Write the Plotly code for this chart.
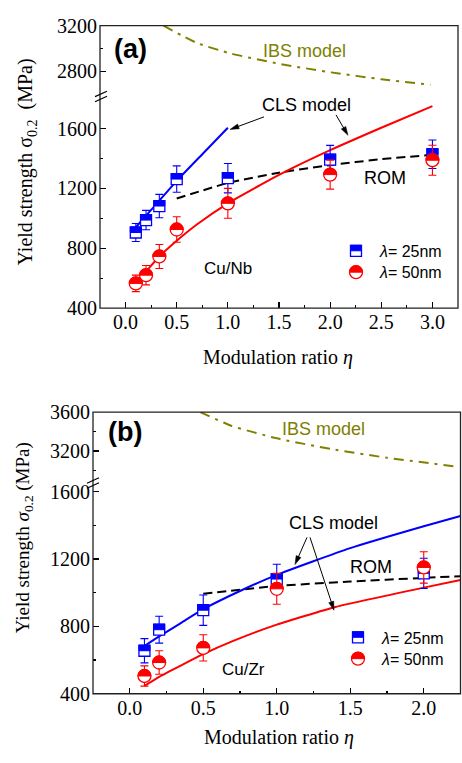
import math
import plotly.graph_objects as go

W, H = 462, 763

# ---------------- data : panel (a) Cu/Nb ----------------
eta_a = [0.1, 0.2, 0.33, 0.5, 1.0, 2.0, 3.0]
sig_a_25 = [905, 988, 1082, 1262, 1268, 1392, 1428]
err_a_25 = [60, 65, 78, 88, 98, 95, 95]
sig_a_50 = [565, 620, 745, 925, 1100, 1292, 1388]
err_a_50 = [55, 65, 80, 85, 100, 97, 100]

cls_a_25_eta = [0.1, 0.2, 0.33, 0.5, 0.75, 1.0]
cls_a_25 = [940, 1018, 1118, 1250, 1428, 1605]
cls_a_50_eta = [0.1, 0.2, 0.33, 0.5, 0.7, 1.0, 1.5, 2.0, 2.5, 3.0]
cls_a_50 = [570, 645, 745, 850, 960, 1100, 1290, 1455, 1605, 1750]
rom_a_eta = [0.5, 1.0, 1.5, 2.0, 2.5, 3.0]
rom_a = [1132, 1236, 1305, 1355, 1395, 1424]
ibs_a_eta = [0.37, 0.7, 1.03, 1.52, 2.01, 2.5, 2.98]
ibs_a = [3200, 3047, 2955, 2862, 2790, 2730, 2681]

# ---------------- data : panel (b) Cu/Zr ----------------
eta_b = [0.1, 0.2, 0.5, 1.0, 2.0]
sig_b_25 = [655, 780, 896, 1081, 1115]
err_b_25 = [72, 80, 90, 88, 90]
sig_b_50 = [505, 585, 672, 1023, 1150]
err_b_50 = [60, 70, 78, 92, 93]

cls_b_25_eta = [0.1, 0.2, 0.35, 0.5, 0.75, 1.0, 1.5, 2.0, 2.25]
cls_b_25 = [683, 740, 821, 902, 1010, 1106, 1265, 1395, 1456]
cls_b_50_eta = [0.1, 0.2, 0.5, 0.7, 1.0, 1.4, 2.0, 2.25]
cls_b_50 = [446, 500, 635, 712, 810, 915, 1030, 1075]
rom_b_eta = [0.5, 1.0, 1.5, 2.0, 2.25]
rom_b = [994, 1040, 1066, 1088, 1098]
ibs_b_eta = [0.48, 0.69, 1.0, 1.37, 1.75, 2.22]
ibs_b = [3600, 3460, 3330, 3220, 3130, 3040]

xt_a = [0.0, 0.5, 1.0, 1.5, 2.0, 2.5, 3.0]
xt_b = [0.0, 0.5, 1.0, 1.5, 2.0]
yt_low = [400, 800, 1200, 1600]
yt_a_up = [2800, 3200]
yt_b_up = [3200, 3600]

BLUE = "#0000FF"
RED = "#FF0000"
OLIVE = "#808000"
SERIF = "Liberation Serif"
SANS = "Liberation Sans"


def px(p):
    return p / W


def py(p):
    return 1 - p / H


fig = go.Figure()


def lines(xa, ya, x, y, color, dash, width=2.0):
    fig.add_trace(go.Scatter(x=x, y=y, mode="lines", xaxis=xa, yaxis=ya,
                             line=dict(color=color, width=width, dash=dash, shape="spline", smoothing=0.5),
                             showlegend=False, hoverinfo="skip"))


# panel (a) curves
lines("x", "y", rom_a_eta, rom_a, "black", "9px,5px")
lines("x", "y", cls_a_25_eta, cls_a_25, BLUE, "solid")
lines("x", "y", cls_a_50_eta, cls_a_50, RED, "solid")
lines("x", "y2", ibs_a_eta, ibs_a, OLIVE, "10px,6px,3px,6px")
# panel (b) curves
lines("x2", "y3", rom_b_eta, rom_b, "black", "9px,5px")
lines("x2", "y3", cls_b_25_eta, cls_b_25, BLUE, "solid")
lines("x2", "y3", cls_b_50_eta, cls_b_50, RED, "solid")
lines("x2", "y4", ibs_b_eta, ibs_b, OLIVE, "10px,6px,3px,6px")


def points(xa, ya, x, y, err, color, symbol, size, name, uid, legend):
    fig.add_trace(go.Scatter(
        x=x, y=y, mode="markers", xaxis=xa, yaxis=ya, name=name, uid=uid, legend=legend,
        marker=dict(symbol=symbol, size=size, color="white", line=dict(color=color, width=1.3)),
        error_y=dict(type="data", array=err, color=color, thickness=1.1, width=4),
        showlegend=True, hoverinfo="skip"))


points("x", "y", eta_a, sig_a_25, err_a_25, BLUE, "square", 11, "<i>λ</i>= 25nm", "sqa", "legend")
points("x", "y", eta_a, sig_a_50, err_a_50, RED, "circle", 13, "<i>λ</i>= 50nm", "cia", "legend2")
points("x2", "y3", eta_b, sig_b_25, err_b_25, BLUE, "square", 11, "<i>λ</i>= 25nm", "sqb", "legend3")
points("x2", "y3", eta_b, sig_b_50, err_b_50, RED, "circle", 13, "<i>λ</i>= 50nm", "cib", "legend4")

tickfont = dict(family=SERIF, size=20, color="black")


def xax(domain, anchor, rng, tv):
    return dict(domain=domain, anchor=anchor, range=rng, tickvals=tv,
                ticktext=["%.1f" % v for v in tv], ticks="inside", ticklen=6, tickwidth=1.2,
                tickcolor="black", showline=False, showgrid=False, zeroline=False,
                tickfont=tickfont, fixedrange=True,
                minor=dict(tickvals=[v + 0.25 for v in [-0.5] + tv if -0.25 < v + 0.25 < rng[1]],
                           ticks="inside", ticklen=3, tickwidth=1.2, tickcolor="black", showgrid=False))


def yax(domain, anchor, rng, tv, minor_tv):
    return dict(domain=domain, anchor=anchor, range=rng, tickvals=tv, ticktext=[str(v) for v in tv],
                ticks="inside", ticklen=6, tickwidth=1.2, tickcolor="black",
                showline=False, showgrid=False, zeroline=False, tickfont=tickfont, fixedrange=True,
                ticklabelstandoff=2,
                minor=dict(tickvals=minor_tv, ticks="inside", ticklen=3, tickwidth=1.2,
                           tickcolor="black", showgrid=False))


A_L, A_R, A_T, A_B, A_BR = 100, 458, 15, 306, 88
B_L, B_R, B_T, B_B, B_BR = 93, 460.5, 413, 703, 486


def leg(x, y):
    return dict(x=px(x), y=py(y), xanchor="left", yanchor="middle", bgcolor="rgba(0,0,0,0)",
                font=dict(family=SANS, size=16, color="black"), tracegroupgap=0, itemwidth=38)


fig.update_layout(
    width=W, height=H, margin=dict(l=0, r=0, t=0, b=0),
    paper_bgcolor="white", plot_bgcolor="white",
    xaxis=xax([px(A_L), px(A_R)], "y", [-0.25, 3.25], xt_a),
    yaxis=yax([py(A_B), py(A_BR)], "x", [399.5, 400 + (A_B - A_BR) * 1200 / 185], yt_low, [600, 1000, 1400]),
    yaxis2=yax([py(A_BR), py(A_T)], "x", [3200 - (A_BR - A_T) * 400 / 47, 3200.5], yt_a_up, [3000]),
    xaxis2=xax([px(B_L), px(B_R)], "y3", [-0.25, 2.25], xt_b),
    yaxis3=yax([py(B_B), py(B_BR)], "x2", [399.5, 400 + (B_B - B_BR) * 1200 / 208], yt_low, [600, 1000, 1400]),
    yaxis4=yax([py(B_BR), py(B_T)], "x2", [3600 - (B_BR - B_T) * 10, 3600.5], yt_b_up, [3000, 3400]),
    showlegend=True,
    legend=leg(332, 247),
    legend2=leg(332, 269),
    legend3=leg(334, 645),
    legend4=leg(334, 667),
)

shapes = []
for (l, r, t, b) in [(A_L, A_R, A_T, A_B), (B_L, B_R, B_T, B_B)]:
    shapes.append(dict(type="rect", xref="paper", yref="paper", x0=px(l), x1=px(r), y0=py(b), y1=py(t),
                       line=dict(color="#222222", width=1.3), fillcolor="rgba(0,0,0,0)", layer="above"))
# axis-break marks
for (cx, cy) in [(A_L + 1, A_BR), (B_L, B_BR)]:
    for dy in (-2.6, 2.6):
        shapes.append(dict(type="line", xref="paper", yref="paper",
                           x0=px(cx - 6), y0=py(cy + dy + 2.8), x1=px(cx + 6), y1=py(cy + dy - 2.8),
                           line=dict(color="black", width=1.2)))


# annotation arrows (pixel positions of tail and head)
def arrow(tx, ty, hx, hy, hl=9.0, hw=2.6):
    L = math.hypot(hx - tx, hy - ty)
    ux, uy = (hx - tx) / L, (hy - ty) / L
    bx, by = hx - ux * hl, hy - uy * hl
    shapes.append(dict(type="line", xref="paper", yref="paper", x0=px(tx), y0=py(ty),
                       x1=px(bx + ux * 1), y1=py(by + uy * 1), line=dict(color="black", width=1)))
    p1 = (bx - uy * hw, by + ux * hw)
    p2 = (bx + uy * hw, by - ux * hw)
    path = "M %f %f L %f %f L %f %f Z" % (px(hx), py(hy), px(p1[0]), py(p1[1]), px(p2[0]), py(p2[1]))
    shapes.append(dict(type="path", xref="paper", yref="paper", path=path,
                       fillcolor="black", line=dict(color="black", width=0.5)))


arrow(264, 109, 230, 122)
arrow(336, 107, 348, 128)
arrow(307, 542, 295, 570)
arrow(310, 542, 334, 617)
fig.update_layout(shapes=shapes)

ann = []


def txt(x, y, s, size=18, color="black", family=SANS, angle=0):
    ann.append(dict(x=px(x), y=py(y), xref="paper", yref="paper", text=s, showarrow=False,
                    font=dict(family=family, size=size, color=color), textangle=angle,
                    xanchor="center", yanchor="middle"))


txt(130, 39, "<b>(a)</b>", 27)
txt(304, 41, "IBS model", 18, OLIVE)
txt(306, 97, "CLS model", 18)
txt(385, 172, "ROM", 18)
txt(228, 265, "Cu/Nb", 17)
txt(125, 433, "<b>(b)</b>", 27)
txt(323, 430, "IBS model", 18, OLIVE)
txt(333, 527, "CLS model", 18)
txt(371, 572, "ROM", 18)
txt(243, 678, "Cu/Zr", 17)

txt(27, 156, "Yield strength σ<sub>0.2</sub>  (MPa)", 20, "black", SERIF, -90)
txt(24, 543, "Yield strength <i>σ</i><sub>0.2</sub> (MPa)", 19, "black", SERIF, -90)
txt(278, 357, "Modulation ratio <i>η</i>", 20, "black", SERIF)
txt(279, 748, "Modulation ratio <i>η</i>", 20, "black", SERIF)
fig.update_layout(annotations=ann)

post = r"""
var gd = document.getElementById('{plot_id}');
function halfMarks(){
  var old = gd.querySelectorAll('path.halfadd');
  for (var i = 0; i < old.length; i++) { old[i].parentNode.removeChild(old[i]); }
  var pts = gd.querySelectorAll('path.point, path.scatterpts');
  for (var j = 0; j < pts.length; j++) {
    var p = pts[j];
    var g = p.closest('.trace') || p.closest('.traces');
    if (!g || !g.__data__) continue;
    var dd = g.__data__;
    var tr = dd && dd[0] && dd[0].trace;
    if (!tr || !tr.uid) continue;
    var kind = tr.uid.substring(0, 2);
    if (kind !== 'sq' && kind !== 'ci') continue;
    var bb = p.getBBox();
    var r = bb.width / 2;
    var d = (kind === 'sq') ?
      ('M' + (-r) + ',' + (-r) + 'H' + r + 'V0H' + (-r) + 'Z') :
      ('M' + (-r) + ',0A' + r + ',' + r + ' 0 0 1 ' + r + ',0Z');
    var np = document.createElementNS('http://www.w3.org/2000/svg', 'path');
    np.setAttribute('d', d);
    np.setAttribute('class', 'halfadd');
    var tf = p.getAttribute('transform');
    if (tf) np.setAttribute('transform', tf);
    var col = tr.marker.line.color;
    np.style.fill = col;
    np.style.stroke = col;
    np.style.strokeWidth = '1px';
    p.parentNode.insertBefore(np, p.nextSibling);
  }
}
halfMarks();
gd.on('plotly_afterplot', halfMarks);
"""

fig.write_html("out.html", post_script=post, config={"displayModeBar": False, "staticPlot": True})
